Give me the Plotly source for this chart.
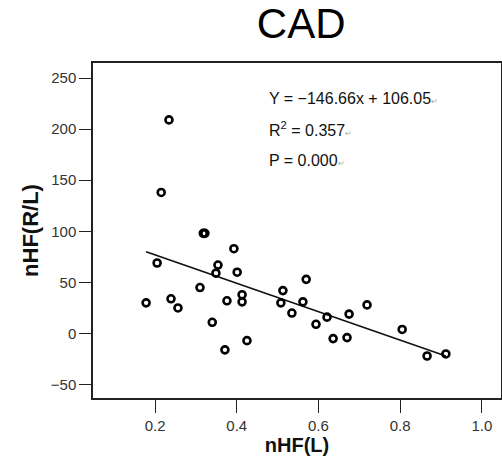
import plotly.graph_objects as go

# values
nhf_l = [0.178, 0.205, 0.215, 0.234, 0.239, 0.256, 0.310, 0.318, 0.322,
         0.340, 0.354, 0.349, 0.371, 0.376, 0.393, 0.401, 0.413, 0.413,
         0.425, 0.508, 0.513, 0.535, 0.562, 0.570, 0.594, 0.621, 0.636,
         0.670, 0.675, 0.719, 0.805, 0.866, 0.912]
nhf_rl = [30, 69, 138, 209, 34, 25, 45, 98, 98,
          11, 67, 59, -16, 32, 83, 60, 38, 31,
          -7, 30, 42, 20, 31, 53, 9, 16, -5,
          -4, 19, 28, 4, -22, -20]

fit_x = [0.178, 0.912]
fit_y = [80, -22]

x_ticks = [0.2, 0.4, 0.6, 0.8, 1.0]
x_tick_text = ['0.2', '0.4', '0.6', '0.8', '1.0']
y_ticks = [-50, 0, 50, 100, 150, 200, 250]
y_tick_text = ['\u221250', '0', '50', '100', '150', '200', '250']

eq_lines = ['Y = \u2212146.66x + 106.05', 'R<sup>2</sup> = 0.357', 'P = 0.000']

font_family = 'Liberation Sans, Arial, sans-serif'

fig = go.Figure()
fig.add_trace(go.Scatter(
    x = fit_x, y = fit_y,
    mode = 'lines',
    line = dict(color = '#111111', width = 1.6),
    hoverinfo = 'skip'
))
fig.add_trace(go.Scatter(
    x = nhf_l, y = nhf_rl,
    mode = 'markers',
    marker = dict(symbol = 'circle-open', size = 7, color = '#000000',
                  line = dict(width = 2.6, color = '#000000'))
))

for i, txt in enumerate(eq_lines):
    fig.add_annotation(
        x = 0, y = 0, xref = 'paper', yref = 'paper',
        text = txt + '<span style="font-size:8px;color:#aaaaaa">\u21b5</span>',
        showarrow = False, xanchor = 'left', yanchor = 'middle',
        xshift = 267 - 93, yshift = (398 - 98) - i * 31,
        font = dict(family = font_family, size = 16, color = '#111111')
    )

axis_common = dict(
    showgrid = False, zeroline = False, automargin = False,
    showline = True, linecolor = '#222222', linewidth = 1.5,
    mirror = True,
    ticks = 'outside', tickcolor = '#222222', tickwidth = 1.2,
    tickfont = dict(family = font_family, size = 15, color = '#333333'),
)

fig.update_layout(
    width = 502, height = 467,
    showlegend = False,
    paper_bgcolor = 'white', plot_bgcolor = 'white',
    margin = dict(l = 93, r = 1, t = 63, b = 69),
    title = dict(text = 'CAD', x = 0.6, xanchor = 'center', y = 0.95, yanchor = 'middle',
                 font = dict(family = font_family, size = 42, color = '#000000')),
    xaxis = dict(
        axis_common,
        range = [0.048, 1.047],
        tickvals = x_ticks, ticktext = x_tick_text, ticklen = 13,
        title = dict(text = '<b>nHF(L)</b>', standoff = 4,
                     font = dict(family = font_family, size = 20, color = '#111111'))
    ),
    yaxis = dict(
        axis_common,
        range = [-63.1, 264.7],
        tickvals = y_ticks, ticktext = y_tick_text, ticklen = 12,
        title = dict(text = '<b>nHF(R/L)</b>', standoff = 6,
                     font = dict(family = font_family, size = 22, color = '#111111'))
    ),
)

# page body has an 8px default margin; drop it so the figure fills the window
fig.write_html('out.html', config = {'displayModeBar': False},
               post_script = "document.body.style.margin = '0';")
